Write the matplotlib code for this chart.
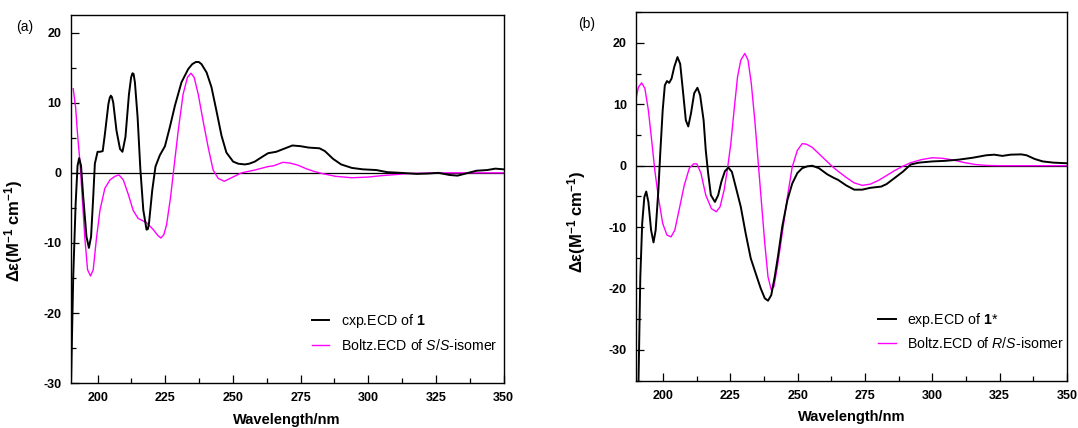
import matplotlib
matplotlib.use("Agg")
import matplotlib.pyplot as plt
from matplotlib.ticker import MultipleLocator

plt.rcParams['font.family'] = ['Liberation Sans', 'DejaVu Sans']
plt.rcParams['mathtext.fontset'] = 'custom'
plt.rcParams['mathtext.rm'] = 'Liberation Sans'
plt.rcParams['mathtext.bf'] = 'Liberation Sans:bold'
plt.rcParams['mathtext.it'] = 'Liberation Sans:italic'
plt.rcParams['axes.unicode_minus'] = False

# ---------------- Panel (a) data ----------------
a_exp_x = [190.2, 191.0, 191.9, 192.6, 193.2, 193.9, 194.7, 195.9, 196.8, 197.6, 198.4, 199.0,
           200.0, 200.9, 201.9, 202.7, 204.0, 204.5, 204.9, 205.3, 205.8, 207.0, 208.3, 209.2, 210.3, 211.6,
           212.4, 212.9, 213.3, 213.8, 214.8, 215.8, 216.9, 218.1, 218.6, 219.0, 220.2, 221.4, 223.0, 224.9, 226.7,
           228.6, 231.0, 233.5, 235.0, 236.3, 237.4, 238.4, 240.3, 242.1, 243.9, 245.8, 247.6, 250.1, 252.0, 254.4,
           256.0, 258.1, 260.5, 263.0, 266, 268, 270, 272, 275, 278, 282, 284, 287, 290, 294, 298, 303, 307, 312,
           318, 322, 326, 330, 333, 336, 340, 344, 347, 350]
a_exp_y = [-30.0, -14.9, -4.4, 1.0, 2.1, 1.0, -3.4, -9.1, -10.7, -9.1, -3.4, 1.3,
           3.0, 3.0, 3.1, 5.5, 9.8, 10.7, 11.0, 10.8, 10.0, 6.0, 3.4, 3.0, 5.1, 11.2,
           13.6, 14.2, 14.1, 12.9, 7.9, 0.6, -5.3, -8.1, -8.0, -7.2, -2.5, 0.9, 2.5, 3.8, 6.5,
           9.6, 12.9, 14.8, 15.5, 15.8, 15.8, 15.5, 14.3, 12.2, 8.9, 5.3, 2.9, 1.6, 1.3, 1.2,
           1.3, 1.6, 2.2, 2.8, 3.0, 3.3, 3.6, 3.9, 3.8, 3.6, 3.5, 3.1, 2.0, 1.2, 0.7, 0.5, 0.4, 0.1, 0.0,
           -0.15, -0.1, 0.0, -0.3, -0.4, -0.1, 0.3, 0.4, 0.6, 0.5]

a_calc_x = [191.0, 191.9, 192.6, 193.5, 194.3, 195.3, 196.3, 197.4, 198.4, 199.6, 200.9, 202.7,
            204.6, 206.4, 207.9, 209.5, 211.3, 213.2, 215.0, 218.1, 220.6, 222.2, 223.4, 224.5, 225.5, 227.0,
            228.0, 229.8, 231.6, 233.2, 234.5, 235.7, 237.2, 239.0, 240.9, 242.7, 244.6, 246.8,
            249.5, 253.2, 258.1, 263.0, 265, 268.5, 271, 274, 277, 280, 283, 288, 294, 300,
            305, 310, 315, 320, 330, 350]
a_calc_y = [12.0, 9.3, 5.5, 1.5, -3.3, -9.3, -13.8, -14.7, -13.8, -9.3, -5.3, -2.2,
            -1.0, -0.5, -0.3, -1.0, -3.0, -5.4, -6.5, -7.1, -8.1, -8.9, -9.3, -8.8, -7.4, -3.4,
            0.0, 6.0, 11.2, 13.6, 14.2, 13.6, 11.2, 7.4, 3.6, 0.4, -0.8, -1.2,
            -0.7, 0.0, 0.4, 0.9, 1.0, 1.5, 1.4, 1.1, 0.6, 0.2, -0.1, -0.5, -0.7, -0.6,
            -0.4, -0.25, -0.1, -0.05, 0.0, 0.0]

# ---------------- Panel (b) data ----------------
b_exp_x = [190.9, 191.6, 192.3, 193.1, 193.8, 194.6, 195.6, 196.5, 197.3, 198.3, 199.0, 199.9,
           200.7, 201.5, 202.3, 203.2, 204.2, 205.4, 206.4, 207.4, 208.5, 209.4, 210.4, 211.6,
           212.8, 213.8, 215.1, 215.9, 216.8, 217.8, 219.3, 220.5, 221.7, 223.0, 224.3, 225.6,
           227.0, 228.9, 230.7, 232.6, 234.4, 236.3, 237.8, 239.0, 240.2, 241.5, 242.7, 244.3,
           246.2, 248.0, 249.9, 251.7, 253.6, 255.4, 257.9, 261.0, 263.5, 265, 268, 271, 274,
           277, 281, 283, 286, 289, 292, 295, 300, 305, 310, 315, 320, 323, 326, 329, 333,
           335, 338, 341, 345, 350]
b_exp_y = [-36.0, -18.1, -9.4, -5.1, -4.2, -5.9, -10.5, -12.5, -10.5, -4.0, 2.0, 9.0,
           13.1, 13.8, 13.5, 14.2, 16.1, 17.7, 16.6, 12.3, 7.4, 6.4, 8.5, 11.8,
           12.7, 11.5, 7.4, 2.5, -1.3, -4.8, -5.9, -4.8, -2.6, -0.9, -0.3, -1.0,
           -3.4, -6.7, -11.0, -15.1, -17.5, -20.0, -21.6, -22.0, -21.1, -18.1, -14.8, -9.9,
           -5.6, -2.9, -1.2, -0.4, -0.1, 0.0, -0.4, -1.4, -2.0, -2.3, -3.2, -3.9, -3.9,
           -3.6, -3.4, -3.0, -2.0, -1.0, 0.2, 0.5, 0.7, 0.8, 1.0, 1.3, 1.7, 1.8, 1.6, 1.8, 1.85,
           1.7, 1.1, 0.7, 0.5, 0.4]

b_calc_x = [190.0, 190.9, 192.1, 193.3, 194.6, 195.8, 197.0, 198.3, 199.9, 201.5, 203.0, 204.4,
            206.0, 207.9, 209.8, 211.4, 212.6, 214.1, 215.9, 218.0, 219.8, 221.2, 222.7, 223.9,
            225.2, 226.4, 227.7, 228.9, 230.4, 231.6, 232.8, 234.1, 235.3, 236.5, 237.8, 239.0,
            240.2, 241.2, 242.5, 244.3, 246.2, 248.0, 249.9, 251.7, 253.3, 255.4, 258.5, 262.8,
            265, 268, 271, 274, 277, 280, 283, 286, 289, 292, 296, 300, 304, 308, 312, 316,
            320, 325, 350]
b_calc_y = [10.9, 12.8, 13.5, 12.6, 9.0, 4.2, -0.8, -5.1, -9.4, -11.3, -11.6, -10.5,
            -7.2, -3.2, -0.4, 0.3, 0.3, -1.2, -4.8, -7.0, -7.5, -6.7, -4.0, -0.7,
            3.6, 9.0, 14.5, 17.2, 18.3, 17.2, 13.4, 7.4, 0.9, -5.6, -12.6, -18.1,
            -20.2, -19.7, -16.4, -11.0, -5.1, -0.2, 2.5, 3.6, 3.5, 3.0, 1.7, -0.1,
            -0.9, -1.9, -2.8, -3.2, -3.0, -2.4, -1.6, -0.8, -0.1, 0.5, 1.0, 1.3, 1.2, 0.9, 0.5, 0.2,
            0.05, 0.0, 0.0]

x_ticks = [200, 225, 250, 275, 300, 325, 350]
a_yticks = [-30, -20, -10, 0, 10, 20]
b_yticks = [-30, -20, -10, 0, 10, 20]

W, H = 1078, 428
fig = plt.figure(figsize=(W / 100, H / 100), dpi=100)

def px_axes(l, t, r, b):
    return fig.add_axes([l / W, 1 - b / H, (r - l) / W, (b - t) / H])

axA = px_axes(70.5, 15, 503.5, 383.3)
axB = px_axes(636, 12.3, 1067, 380.5)

panels = [
    (axA, a_exp_x, a_exp_y, a_calc_x, a_calc_y, (-30, 22.5), a_yticks,
     ['cxp.ECD of $\\mathbf{1}$', 'Boltz.ECD of $\\mathit{S}$/$\\mathit{S}$-isomer'],
     '(a)', (24.5, 26.7), (311.7, 320.7)),
    (axB, b_exp_x, b_exp_y, b_calc_x, b_calc_y, (-35, 25), b_yticks,
     ['exp.ECD of $\\mathbf{1}$*', 'Boltz.ECD of $\\mathit{R}$/$\\mathit{S}$-isomer'],
     '(b)', (587, 24), (878.3, 319)),
]

for ax, ex, ey, cx, cy, ylim, yt, labels, tag, tagpos, legpos in panels:
    ax.axhline(0, color='black', lw=0.9, zorder=1)
    l1, = ax.plot(ex, ey, color='black', lw=1.4, zorder=3)
    l2, = ax.plot(cx, cy, color='#FF00FF', lw=1.0, zorder=2)
    ax.set_xlim(190, 350)
    ax.set_ylim(*ylim)
    ax.set_xticks(x_ticks)
    ax.set_yticks(yt)
    ax.xaxis.set_minor_locator(MultipleLocator(12.5))
    ax.yaxis.set_minor_locator(MultipleLocator(5))
    ax.tick_params(which='both', direction='in', top=False, right=False, width=0.9)
    ax.tick_params(which='major', length=6, pad=6.5, labelsize=9)
    ax.tick_params(which='minor', length=3.4)
    for lab in ax.get_xticklabels() + ax.get_yticklabels():
        lab.set_fontweight('bold')
    for sp in ax.spines.values():
        sp.set_linewidth(1.0)
    ax.set_xlabel('Wavelength/nm', fontsize=10.5, fontweight='bold', labelpad=6)
    ax.set_ylabel('Δε(M$^{\\mathbf{-1}}$ cm$^{\\mathbf{-1}}$)', fontsize=12, fontweight='bold')
    lx, ly = legpos
    ax.legend([l1, l2], labels, loc='center left', frameon=False, fontsize=10.2,
              handlelength=1.25, handletextpad=0.8, labelspacing=0.55,
              borderpad=0, borderaxespad=0,
              bbox_to_anchor=(lx / W, 1 - (ly + 12) / H), bbox_transform=fig.transFigure)
    fig.text(tagpos[0] / W, 1 - tagpos[1] / H, tag, fontsize=10, ha='center', va='center')

axA.yaxis.set_label_coords((25 - 70.5) / (503.5 - 70.5), (383.3 - 231) / (383.3 - 15))
axB.yaxis.set_label_coords((588.5 - 636) / (1067 - 636), (380.5 - 222) / (380.5 - 12.3))

fig.savefig('out.png', dpi=100)
